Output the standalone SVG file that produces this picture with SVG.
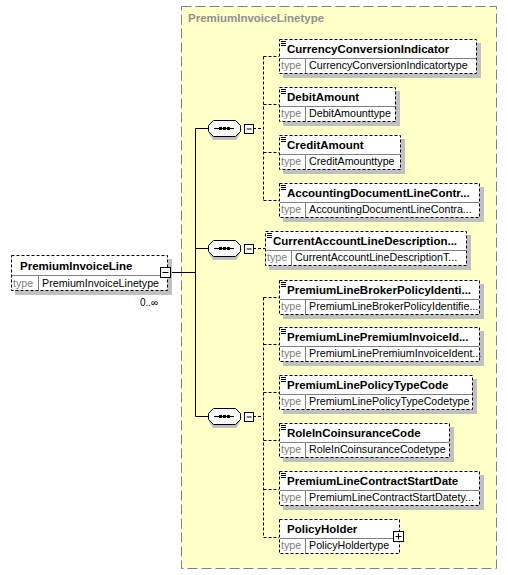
<svg xmlns="http://www.w3.org/2000/svg" width="508" height="575" viewBox="0 0 508 575">
<defs>
<style>
.bx{fill:#fff;stroke:#000;stroke-width:1;stroke-dasharray:3,2}
.sh{fill:#c0c0c0}
.dv{stroke:#808080;stroke-width:1}
.nm{font-family:"Liberation Sans",Arial,sans-serif;font-size:11.5px;font-weight:bold;fill:#000}
.tk{font-family:"Liberation Sans",Arial,sans-serif;font-size:10.7px;fill:#808080}
.tv{font-family:"Liberation Sans",Arial,sans-serif;font-size:10.7px;fill:#000}
.ic{stroke:#000;stroke-width:1}
.cn{stroke:#000;stroke-width:1;fill:none}
.dc{stroke:#000;stroke-width:1;fill:none;stroke-dasharray:3,2}
.sq{fill:#fff;stroke:#000;stroke-width:1}
.cp{fill:#fff;stroke:#000;stroke-width:1}
</style>
</defs>
<rect x="181.5" y="6.5" width="315" height="562" fill="#ffffc8" stroke="#808080" stroke-width="1" stroke-dasharray="10,4"/>
<text x="188" y="22" font-family="'Liberation Sans',Arial,sans-serif" font-size="11.5" font-weight="bold" fill="#909090">PremiumInvoiceLinetype</text>

<g id="connectors">
<path class="cn" d="M171,272.5 H195.5 M195.5,128.5 V416.5 M195.5,128.5 H208 M195.5,248.5 H208 M195.5,416.5 H208"/>
<path class="dc" d="M253,128.5 H263.5 M263.5,56.5 V200.5 M263.5,56.5 H279 M263.5,104.5 H279 M263.5,152.5 H279 M263.5,200.5 H279"/>
<path class="dc" d="M253,248.5 H265"/>
<path class="dc" d="M253,416.5 H263.5 M263.5,297.5 V537.5 M263.5,297.5 H279 M263.5,344.5 H279 M263.5,392.5 H279 M263.5,440.5 H279 M263.5,489.5 H279 M263.5,537.5 H279"/>
</g>

<g id="seq1">
<path d="M213,124 H236 L240,128 V134 L236,140 H213 L209,134 V128 Z" class="sh"/>
<path d="M213.5,120.5 H235.5 L240.5,125.5 V131.5 L235.5,136.5 H213.5 L208.5,131.5 V125.5 Z" class="cp"/>
<path class="ic" d="M214,128.5 H234"/>
<rect x="219" y="127" width="3" height="3" fill="#000"/><rect x="223" y="127" width="3" height="3" fill="#000"/><rect x="227" y="127" width="3" height="3" fill="#000"/>
<rect x="244.5" y="124.5" width="9" height="9" class="sq"/><path class="ic" d="M246.5,129 H251.5"/>
</g>
<g id="seq2">
<path d="M213,244 H236 L240,248 V254 L236,260 H213 L209,254 V248 Z" class="sh"/>
<path d="M213.5,240.5 H235.5 L240.5,245.5 V251.5 L235.5,256.5 H213.5 L208.5,251.5 V245.5 Z" class="cp"/>
<path class="ic" d="M214,248.5 H234"/>
<rect x="219" y="247" width="3" height="3" fill="#000"/><rect x="223" y="247" width="3" height="3" fill="#000"/><rect x="227" y="247" width="3" height="3" fill="#000"/>
<rect x="244.5" y="244.5" width="9" height="9" class="sq"/><path class="ic" d="M246.5,249 H251.5"/>
</g>
<g id="seq3">
<path d="M213,412 H236 L240,416 V422 L236,428 H213 L209,422 V416 Z" class="sh"/>
<path d="M213.5,408.5 H235.5 L240.5,413.5 V419.5 L235.5,424.5 H213.5 L208.5,419.5 V413.5 Z" class="cp"/>
<path class="ic" d="M214,416.5 H234"/>
<rect x="219" y="415" width="3" height="3" fill="#000"/><rect x="223" y="415" width="3" height="3" fill="#000"/><rect x="227" y="415" width="3" height="3" fill="#000"/>
<rect x="244.5" y="412.5" width="9" height="9" class="sq"/><path class="ic" d="M246.5,417 H251.5"/>
</g>

<g id="PremiumInvoiceLine">
<rect x="15" y="259" width="157" height="36" class="sh"/>
<rect x="11.5" y="255.5" width="156" height="35" class="bx"/>
<path class="dv" d="M12,275.5 H167 M38.5,276 V290"/>
<text x="20" y="270" class="nm">PremiumInvoiceLine</text>
<text x="13" y="287" class="tk">type</text>
<text x="42" y="287" class="tv">PremiumInvoiceLinetype</text>
<rect x="160.5" y="267.5" width="10" height="10" class="sq"/><path class="ic" d="M162.5,272.5 H168.5"/>
<text x="140" y="306" font-family="'Liberation Sans',Arial,sans-serif" font-size="10" fill="#000">0..∞</text>
</g>

<g id="CurrencyConversionIndicator" transform="translate(279,39)">
<rect x="4" y="4" width="198" height="35" class="sh"/>
<rect x="0.5" y="0.5" width="197" height="34" class="bx"/>
<path class="dv" d="M1,19.5 H197 M26.5,20 V34"/>
<path class="ic" d="M2,2.5 H7 M2,4.5 H7 M2,6.5 H7"/>
<text x="8" y="14" class="nm">CurrencyConversionIndicator</text>
<text x="2" y="30" class="tk">type</text><text x="30" y="30" class="tv">CurrencyConversionIndicatortype</text>
</g>
<g id="DebitAmount" transform="translate(279,87)">
<rect x="4" y="4" width="117" height="35" class="sh"/>
<rect x="0.5" y="0.5" width="116" height="34" class="bx"/>
<path class="dv" d="M1,19.5 H116 M26.5,20 V34"/>
<path class="ic" d="M2,2.5 H7 M2,4.5 H7 M2,6.5 H7"/>
<text x="8" y="14" class="nm">DebitAmount</text>
<text x="2" y="30" class="tk">type</text><text x="30" y="30" class="tv">DebitAmounttype</text>
</g>
<g id="CreditAmount" transform="translate(279,135)">
<rect x="4" y="4" width="122" height="35" class="sh"/>
<rect x="0.5" y="0.5" width="121" height="34" class="bx"/>
<path class="dv" d="M1,19.5 H121 M26.5,20 V34"/>
<path class="ic" d="M2,2.5 H7 M2,4.5 H7 M2,6.5 H7"/>
<text x="8" y="14" class="nm">CreditAmount</text>
<text x="2" y="30" class="tk">type</text><text x="30" y="30" class="tv">CreditAmounttype</text>
</g>
<g id="AccountingDocumentLineContr" transform="translate(279,183)">
<rect x="4" y="4" width="201" height="35" class="sh"/>
<rect x="0.5" y="0.5" width="200" height="34" class="bx"/>
<path class="dv" d="M1,19.5 H200 M26.5,20 V34"/>
<path class="ic" d="M2,2.5 H7 M2,4.5 H7 M2,6.5 H7"/>
<text x="8" y="14" class="nm">AccountingDocumentLineContr...</text>
<text x="2" y="30" class="tk">type</text><text x="30" y="30" class="tv">AccountingDocumentLineContra...</text>
</g>
<g id="CurrentAccountLineDescription" transform="translate(265,231)">
<rect x="4" y="4" width="202" height="35" class="sh"/>
<rect x="0.5" y="0.5" width="201" height="34" class="bx"/>
<path class="dv" d="M1,19.5 H201 M26.5,20 V34"/>
<path class="ic" d="M2,2.5 H7 M2,4.5 H7 M2,6.5 H7"/>
<text x="8" y="14" class="nm">CurrentAccountLineDescription...</text>
<text x="2" y="30" class="tk">type</text><text x="30" y="30" class="tv">CurrentAccountLineDescriptionT...</text>
</g>
<g id="PremiumLineBrokerPolicyIdenti" transform="translate(279,280)">
<rect x="4" y="4" width="201" height="35" class="sh"/>
<rect x="0.5" y="0.5" width="200" height="34" class="bx"/>
<path class="dv" d="M1,19.5 H200 M26.5,20 V34"/>
<path class="ic" d="M2,2.5 H7 M2,4.5 H7 M2,6.5 H7"/>
<text x="8" y="14" class="nm">PremiumLineBrokerPolicyIdenti...</text>
<text x="2" y="30" class="tk">type</text><text x="30" y="30" class="tv">PremiumLineBrokerPolicyIdentifie...</text>
</g>
<g id="PremiumLinePremiumInvoiceId" transform="translate(279,327)">
<rect x="4" y="4" width="201" height="35" class="sh"/>
<rect x="0.5" y="0.5" width="200" height="34" class="bx"/>
<path class="dv" d="M1,19.5 H200 M26.5,20 V34"/>
<path class="ic" d="M2,2.5 H7 M2,4.5 H7 M2,6.5 H7"/>
<text x="8" y="14" class="nm">PremiumLinePremiumInvoiceId...</text>
<text x="2" y="30" class="tk">type</text><text x="30" y="30" class="tv">PremiumLinePremiumInvoiceIdent...</text>
</g>
<g id="PremiumLinePolicyTypeCode" transform="translate(279,375)">
<rect x="4" y="4" width="194" height="35" class="sh"/>
<rect x="0.5" y="0.5" width="193" height="34" class="bx"/>
<path class="dv" d="M1,19.5 H193 M26.5,20 V34"/>
<path class="ic" d="M2,2.5 H7 M2,4.5 H7 M2,6.5 H7"/>
<text x="8" y="14" class="nm">PremiumLinePolicyTypeCode</text>
<text x="2" y="30" class="tk">type</text><text x="30" y="30" class="tv">PremiumLinePolicyTypeCodetype</text>
</g>
<g id="RoleInCoinsuranceCode" transform="translate(279,423)">
<rect x="4" y="4" width="171" height="35" class="sh"/>
<rect x="0.5" y="0.5" width="170" height="34" class="bx"/>
<path class="dv" d="M1,19.5 H170 M26.5,20 V34"/>
<path class="ic" d="M2,2.5 H7 M2,4.5 H7 M2,6.5 H7"/>
<text x="8" y="14" class="nm">RoleInCoinsuranceCode</text>
<text x="2" y="30" class="tk">type</text><text x="30" y="30" class="tv">RoleInCoinsuranceCodetype</text>
</g>
<g id="PremiumLineContractStartDate" transform="translate(279,471)">
<rect x="4" y="4" width="201" height="35" class="sh"/>
<rect x="0.5" y="0.5" width="200" height="34" class="bx"/>
<path class="dv" d="M1,19.5 H200 M26.5,20 V34"/>
<path class="ic" d="M2,2.5 H7 M2,4.5 H7 M2,6.5 H7"/>
<text x="8" y="14" class="nm">PremiumLineContractStartDate</text>
<text x="2" y="30" class="tk">type</text><text x="30" y="30" class="tv">PremiumLineContractStartDatety...</text>
</g>
<g id="PolicyHolder" transform="translate(279,519)">
<rect x="0.5" y="0.5" width="120" height="34" class="bx"/>
<path class="dv" d="M1,19.5 H120 M26.5,20 V34"/>
<text x="8" y="14" class="nm">PolicyHolder</text>
<text x="2" y="30" class="tk">type</text><text x="30" y="30" class="tv">PolicyHoldertype</text>
<rect x="114.5" y="12.5" width="10" height="10" class="sq"/><path class="ic" d="M116.5,17.5 H122.5 M119.5,14.5 V20.5"/>
</g>
</svg>
